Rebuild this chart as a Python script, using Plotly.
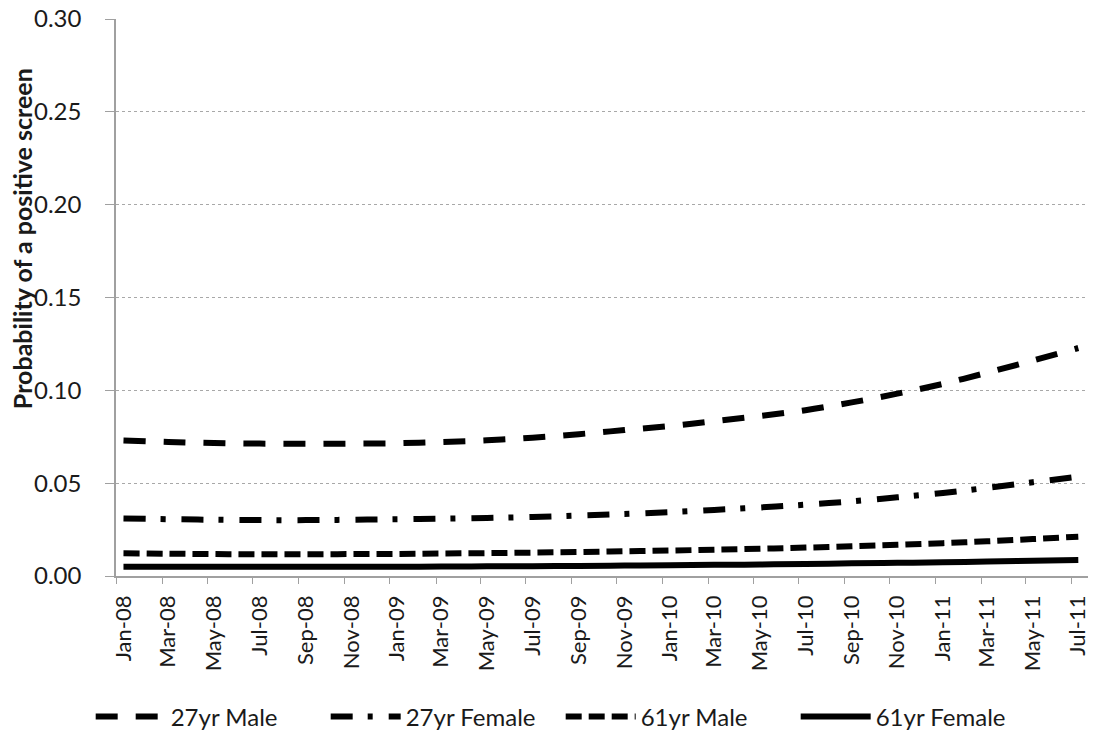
import plotly.graph_objects as go
import pandas as pd

months = ["Jan-08", "Mar-08", "May-08", "Jul-08", "Sep-08", "Nov-08",
          "Jan-09", "Mar-09", "May-09", "Jul-09", "Sep-09", "Nov-09",
          "Jan-10", "Mar-10", "May-10", "Jul-10", "Sep-10", "Nov-10",
          "Jan-11", "Mar-11", "May-11", "Jul-11"]

male_27 = [0.0730, 0.0722, 0.0716, 0.0713, 0.0712, 0.0713,
           0.0715, 0.0722, 0.0731, 0.0745, 0.0764, 0.0786,
           0.0808, 0.0834, 0.0862, 0.0893, 0.0935, 0.0982,
           0.1035, 0.1095, 0.1160, 0.1228]
female_27 = [0.0310, 0.0306, 0.0303, 0.0301, 0.0301, 0.0303,
             0.0306, 0.0309, 0.0313, 0.0318, 0.0326, 0.0334,
             0.0344, 0.0356, 0.0369, 0.0384, 0.0402, 0.0424,
             0.0447, 0.0475, 0.0505, 0.0535]
male_61 = [0.0122, 0.0120, 0.0118, 0.0117, 0.0117, 0.0118,
           0.0119, 0.0121, 0.0123, 0.0126, 0.0129, 0.0133,
           0.0137, 0.0142, 0.0147, 0.0153, 0.0160, 0.0168,
           0.0177, 0.0187, 0.0199, 0.0212]
female_61 = [0.0050, 0.0050, 0.0050, 0.0050, 0.0050, 0.0050,
             0.0050, 0.0051, 0.0052, 0.0053, 0.0054, 0.0056,
             0.0058, 0.0060, 0.0062, 0.0065, 0.0068, 0.0071,
             0.0074, 0.0078, 0.0082, 0.0086]

series_names = ["27yr Male", "27yr Female", "61yr Male", "61yr Female"]
series_vals = [male_27, female_27, male_61, female_61]
dashes = ["22px,18px", "22px,15px,5px,16px", "16px,7px", "solid"]

y_title = "Probability of a positive screen"

dates = pd.to_datetime(months, format="%b-%y")

fig = go.Figure()
for name, vals, dash in zip(series_names, series_vals, dashes):
    fig.add_trace(go.Scatter(
        x=dates, y=vals, name=name, mode="lines",
        line=dict(color="black", width=6, dash=dash, shape="spline"),
    ))

font_family = "Lato, Open Sans, Arial, sans-serif"

# page body has an 8px default margin, so the figure is 8px smaller
fig.update_layout(
    width=1088, height=726,
    margin=dict(l=108, r=2, t=11, b=158, autoexpand=False),
    plot_bgcolor="white", paper_bgcolor="white",
    font=dict(family=font_family, color="#1a1a1a", size=24),
    showlegend=True,
    legend=dict(orientation="h", xref="container", yref="container",
                x=0.076, xanchor="left", y=0.0234, yanchor="middle",
                font=dict(size=24, family=font_family),
                itemwidth=70, entrywidth=150, entrywidthmode="pixels",
                traceorder="normal", bgcolor="rgba(0,0,0,0)"),
    annotations=[dict(text="<b>" + y_title + "</b>", textangle=-90,
                      xref="paper", yref="paper", x=-0.096, y=0.605,
                      xanchor="center", yanchor="middle", showarrow=False,
                      font=dict(size=25, family=font_family, color="#1a1a1a"))],
)

fig.update_xaxes(
    type="date", automargin=False,
    range=["2007-12-22", "2011-07-22"],
    tickvals=dates, ticktext=months,
    tickangle=-90, ticks="", ticklen=0,
    ticklabeloverflow="allow", ticklabelstandoff=9,
    tickfont=dict(size=22, family=font_family),
    showline=True, linecolor="#a0a0a0", linewidth=1.5,
    showgrid=False, zeroline=False,
    minor=dict(ticks="outside", ticklen=6, tickcolor="#a0a0a0", tickwidth=1,
               tick0="2007-12-22", dtick="M2", showgrid=False),
)

fig.update_yaxes(
    range=[0, 0.30], dtick=0.05, tickformat=".2f", automargin=False,
    showline=True, linecolor="#a0a0a0", linewidth=1.5,
    ticks="outside", ticklen=9, tickcolor="#a0a0a0",
    ticklabelstandoff=19, ticklabeloverflow="allow",
    showgrid=True, gridcolor="#a8a8a8", gridwidth=1, griddash="dot",
    zeroline=False,
    tickfont=dict(size=24, family=font_family),
)

fig.write_html("out.html")
